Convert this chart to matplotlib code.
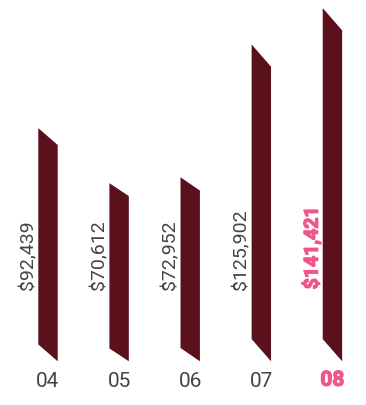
import numpy as np
import matplotlib
matplotlib.use("Agg")
import matplotlib.pyplot as plt
import matplotlib.patheffects as pe
from matplotlib.patches import Polygon

# yearly totals
years = ["04", "05", "06", "07", "08"]
totals = [92439, 70612, 72952, 125902, 141421]
labels = ["$92,439", "$70,612", "$72,952", "$125,902", "$141,421"]

bar_color = "#5b111c"
text_gray = "#444444"
pink = "#ef5786"
font = ["Roboto", "Liberation Sans", "DejaVu Sans"]

fig = plt.figure(figsize=(3.66, 4.06), dpi=100)
ax = fig.add_axes([0, 0, 1, 1])
ax.set_xlim(-0.675, 4.472)
ax.set_ylim(-18675, 154830)
ax.axis("off")

x = np.arange(len(years))
vals = np.array(totals, dtype=float)
w = 0.273
# the left edge is lifted so each bar reads as a slanted ribbon
skew = np.minimum(vals * 0.078, 9500)

# extra stroke to make the highlighted text heavier
heavy = [pe.Stroke(linewidth=0.9, foreground=pink), pe.Normal()]

for i in range(len(years)):
    x0, x1 = x[i] - w / 2, x[i] + w / 2
    pts = [(x0, skew[i]), (x0, skew[i] + vals[i]), (x1, vals[i]), (x1, 0)]
    ax.add_patch(Polygon(pts, closed=True, facecolor=bar_color,
                         edgecolor="none", antialiased=True))

    # latest year is highlighted in bold pink
    last = i == len(years) - 1
    if last:
        style = dict(color=pink, fontweight="bold", family=font,
                     path_effects=heavy)
    else:
        style = dict(color=text_gray, fontweight="normal", family=font)

    ax.annotate(labels[i], xy=(x0, 0), xytext=(-5, 72),
                textcoords="offset pixels", rotation=90,
                rotation_mode="anchor", ha="left", va="baseline",
                fontsize=14, **style)

    ax.annotate(years[i], xy=(x[i], 0), xytext=(0, -24.4),
                textcoords="offset pixels", ha="center", va="baseline",
                fontsize=15, **style)

fig.savefig("out.png", dpi=100)
